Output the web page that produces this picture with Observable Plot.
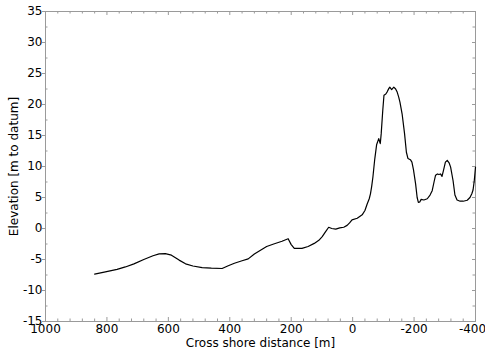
<!DOCTYPE html>
<html><head><meta charset="utf-8">
<script src="https://cdn.jsdelivr.net/npm/d3@7"></script>
<script src="https://cdn.jsdelivr.net/npm/@observablehq/plot@0.6"></script>
<style>body{margin:0;background:#fff}</style>
</head><body><div id="chart"></div>
<script>
const distance = [840,805,767,740,712,680,650,630,610,590,565,544,520,490,460,425,405,385,360,340,320,300,280,257,230,210,200,190,165,145,125,110,99,88,78,68,55,42,29,18,10,2,-15,-31,-40,-47,-54,-58,-62,-66,-72,-78,-85,-88,-90,-93,-98,-102,-108,-112,-118,-121,-127,-134,-140,-145,-150,-154,-161,-169,-175,-180,-188,-193,-198,-205,-210,-214,-219,-223,-232,-243,-252,-259,-265,-270,-276,-281,-286,-291,-296,-302,-308,-314,-319,-327,-333,-340,-350,-360,-373,-382,-388,-392,-396,-400];
const elevation = [-7.35,-7.0,-6.6,-6.2,-5.7,-5.0,-4.4,-4.1,-4.05,-4.3,-5.1,-5.7,-6.05,-6.3,-6.4,-6.45,-6.0,-5.6,-5.2,-4.9,-4.1,-3.5,-2.9,-2.5,-2.05,-1.65,-2.6,-3.2,-3.2,-2.9,-2.4,-1.9,-1.3,-0.5,0.2,0.0,-0.1,0.1,0.2,0.5,0.9,1.4,1.65,2.2,2.9,3.9,4.8,5.6,6.8,8.3,11.2,13.5,14.5,14.0,13.7,15.3,19.0,21.5,21.7,22.0,22.6,22.8,22.4,22.8,22.5,22.0,21.2,20.4,18.5,15.3,12.3,11.3,11.1,10.7,9.5,7.2,5.0,4.2,4.3,4.7,4.6,4.8,5.4,6.1,7.5,8.6,8.8,8.7,8.8,8.4,9.4,10.7,11.0,10.6,9.9,7.7,5.4,4.6,4.4,4.4,4.55,5.0,5.6,6.2,7.7,9.9];
const xTicks = [1000,800,600,400,200,0,-200,-400];
const yTicks = [-15,-10,-5,0,5,10,15,20,25,30,35];
const xMinor = d3.range(1000,-401,-40).filter(v => !xTicks.includes(v));
const yMinor = d3.range(-15,35.01,2.5).filter(v => !yTicks.includes(v));
const xLabel = "Cross shore distance [m]";
const yLabel = "Elevation [m to datum]";

const W = 485, H = 352, mt = 11, mb = 31, ml = 45, mr = 10;
const ih = H - mt - mb, iw = W - ml - mr;
const grey = "#9a9a9a";
const fmt = d => String(d);
const data = distance.map((d, i) => ({d, e: elevation[i]}));
const xEdge = xTicks.slice(-1);
const xInner = xTicks.slice(0, -1);

const chart = Plot.plot({
  width: W, height: H,
  marginTop: mt, marginBottom: mb, marginLeft: ml, marginRight: mr,
  style: {fontFamily: "DejaVu Sans, Verdana, sans-serif", fontSize: "12px", color: "#000", background: "#fff"},
  x: {domain: [1000, -400]},
  y: {domain: [-15, 35]},
  marks: [
    Plot.axisX(xInner, {anchor: "bottom", tickSize: 0, tickPadding: 3, fontSize: 12, tickFormat: fmt, label: xLabel, labelAnchor: "center", labelArrow: "none", labelOffset: 25}),
    Plot.axisX(xEdge, {anchor: "bottom", tickSize: 0, tickPadding: 3, fontSize: 12, tickFormat: fmt, dx: -3, label: null}),
    Plot.axisY(yTicks, {anchor: "left", tickSize: 0, tickPadding: 3, fontSize: 12, tickFormat: fmt, label: yLabel, labelAnchor: "center", labelArrow: "none", labelOffset: 36}),
    // bottom / top ticks (inward)
    Plot.ruleX(xTicks, {x: d => d, stroke: grey, insetTop: ih - 4}),
    Plot.ruleX(xMinor, {x: d => d, stroke: grey, insetTop: ih - 2.5}),
    Plot.ruleX(xTicks, {x: d => d, stroke: grey, insetBottom: ih - 4}),
    Plot.ruleX(xMinor, {x: d => d, stroke: grey, insetBottom: ih - 2.5}),
    // left ticks
    Plot.ruleY(yTicks, {y: d => d, stroke: grey, insetLeft: -3, insetRight: iw}),
    Plot.ruleY(yMinor, {y: d => d, stroke: grey, insetRight: iw - 2.5}),
    // right ticks (inward)
    Plot.ruleY(yTicks, {y: d => d, stroke: grey, insetLeft: iw - 3}),
    Plot.ruleY(yMinor, {y: d => d, stroke: grey, insetLeft: iw - 2.5}),
    Plot.frame({stroke: grey}),
    Plot.line(data, {x: "d", y: "e", stroke: "#000", strokeWidth: 1.2})
  ]
});
document.getElementById("chart").append(chart);
</script>
</body></html>
